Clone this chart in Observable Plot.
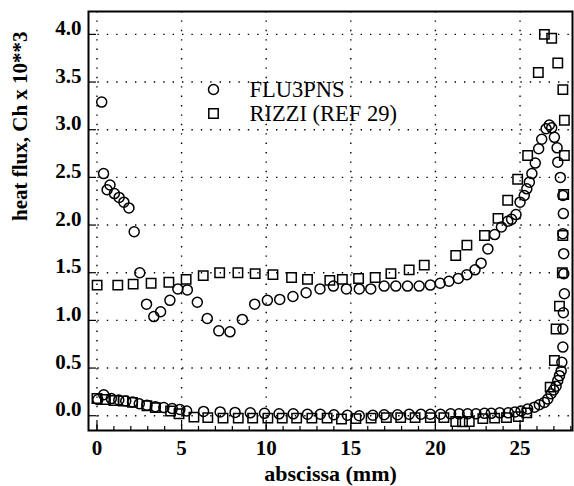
<!DOCTYPE html>
<html><head><meta charset="utf-8">
<script src="https://cdn.jsdelivr.net/npm/d3@7"></script>
<script src="https://cdn.jsdelivr.net/npm/@observablehq/plot@0.6"></script>
<style>html,body{margin:0;padding:0;background:#fff}#chart svg{display:block}</style>
</head><body><div id="chart"></div><script>
// FLU3PNS — upper branch (circles)
const fluUpperX = [0.28,0.39,0.6,0.77,1.03,1.31,1.59,1.89,2.2,2.53,2.93,3.36,3.76,4.31,4.78,5.34,5.93,6.52,7.2,7.86,8.59,9.32,10.07,10.8,11.58,12.36,13.18,13.97,14.74,15.5,16.18,16.97,17.66,18.35,19.04,19.7,20.28,20.8,21.35,21.86,22.34,22.7,23.1,23.5,23.9,24.27,24.5,24.76,25.0,25.25,25.4,25.55,25.7,25.9,26.1,26.28,26.54,26.73,26.87,27.03,27.19,27.23,27.38,27.53,27.56,27.53,27.58,27.58,27.62,27.56,27.53,27.53,27.47];
const fluUpperY = [3.29,2.54,2.37,2.42,2.33,2.29,2.24,2.18,1.93,1.50,1.17,1.04,1.09,1.21,1.33,1.32,1.19,1.02,0.89,0.88,1.01,1.17,1.21,1.22,1.25,1.29,1.33,1.36,1.33,1.33,1.33,1.36,1.36,1.36,1.36,1.37,1.39,1.41,1.44,1.48,1.53,1.60,1.75,1.90,1.98,2.04,2.06,2.11,2.24,2.31,2.38,2.45,2.54,2.65,2.80,2.90,3.01,3.05,3.02,2.92,2.81,2.66,2.50,2.31,2.12,1.91,1.70,1.49,1.28,1.08,0.91,0.72,0.56];
// FLU3PNS — lower branch (circles)
const fluLowerX = [0.05,0.4,0.85,1.29,1.7,2.1,2.5,2.95,3.45,3.95,4.45,4.9,5.3,6.3,7.28,8.16,9.06,9.9,10.76,11.6,12.44,13.2,14.0,14.8,15.5,16.3,16.97,17.76,18.45,19.14,19.7,20.3,20.9,21.4,21.9,22.4,22.9,23.3,23.8,24.3,24.7,25.06,25.45,25.85,26.14,26.44,26.64,26.83,26.99,27.13,27.23,27.33,27.43];
const fluLowerY = [0.17,0.22,0.18,0.165,0.155,0.145,0.125,0.11,0.095,0.085,0.075,0.065,0.05,0.045,0.04,0.035,0.03,0.025,0.02,0.02,0.015,0.015,0.01,0.005,0.0,0.005,0.01,0.01,0.015,0.015,0.015,0.015,0.02,0.02,0.02,0.02,0.025,0.025,0.03,0.03,0.04,0.05,0.07,0.09,0.115,0.14,0.175,0.23,0.27,0.31,0.37,0.42,0.47];
// RIZZI (REF 29) — upper branch (squares)
const rizziUpperX = [0.01,1.23,2.14,3.2,4.25,5.27,6.28,7.25,8.33,9.35,10.4,11.5,12.44,13.76,14.5,15.46,16.44,17.37,18.45,19.34,21.2,21.86,22.9,23.7,24.27,24.86,25.45,26.08,26.44,26.87,27.23,27.53,27.62,27.62,27.58,27.53,27.5,27.33,27.13,27.03,26.78];
const rizziUpperY = [1.37,1.37,1.38,1.39,1.40,1.43,1.47,1.50,1.50,1.49,1.48,1.45,1.43,1.42,1.43,1.44,1.45,1.49,1.53,1.58,1.68,1.79,1.89,2.07,2.26,2.48,2.73,3.60,4.00,3.96,3.70,3.42,3.10,2.73,2.32,1.89,1.50,1.15,0.91,0.58,0.30];
// RIZZI (REF 29) — lower branch (squares)
const rizziLowerX = [0.0,0.5,1.0,1.55,2.1,2.95,3.45,4.35,4.85,5.73,6.55,7.45,8.35,9.2,10.1,10.95,11.8,12.7,13.6,14.45,15.3,16.2,17.1,17.95,18.8,19.7,20.5,21.2,21.6,22.0,22.8,23.5,24.2,24.9,25.4];
const rizziLowerY = [0.18,0.17,0.16,0.155,0.14,0.105,0.085,0.05,0.02,-0.015,-0.02,-0.025,-0.025,-0.025,-0.025,-0.025,-0.025,-0.025,-0.025,-0.035,-0.03,-0.025,-0.02,-0.02,-0.02,-0.02,-0.02,-0.06,-0.065,-0.06,-0.03,-0.025,-0.02,-0.01,0.03];

const xTicks = [0,5,10,15,20,25];
const xMinorTicks = d3.range(0, 29, 1);
const yTicks = [0,0.5,1.0,1.5,2.0,2.5,3.0,3.5,4.0];
const legendLabels = ["FLU3PNS", "RIZZI (REF 29)"];
const xLabel = "abscissa (mm)";
const yLabel = "heat flux, Ch x 10**3";

const pts = (xs, ys) => xs.map((x, i) => ({x, y: ys[i]}));
const font = "'Liberation Serif', 'Times New Roman', serif";
const dotStyle = {x: "x", y: "y", fill: "none", stroke: "black", strokeWidth: 1.5};
const gridStyle = {stroke: "black", strokeOpacity: 1, strokeWidth: 1.4, strokeDasharray: "1.4,8"};

const chart = Plot.plot({
  width: 574, height: 486,
  marginLeft: 88, marginRight: 2, marginTop: 11, marginBottom: 56,
  style: {fontFamily: font, background: "white", color: "black"},
  x: {domain: [-0.5, 28.1]},
  y: {domain: [-0.155, 4.24]},
  marks: [
    Plot.gridX(xTicks, gridStyle),
    Plot.gridY(yTicks, gridStyle),
    Plot.axisX(xMinorTicks, {anchor: "bottom", tickSize: -4, text: null, label: null, strokeWidth: 1.2}),
    Plot.axisX(xTicks, {anchor: "bottom", tickSize: -10, text: null, label: null, strokeWidth: 1.2}),
    Plot.axisX(xTicks, {anchor: "bottom", tickSize: 0, tickPadding: 10, fontSize: 21, fontWeight: "bold", label: null}),
    Plot.axisY(yTicks, {anchor: "left", tickSize: -8, text: null, label: null, strokeWidth: 1.2}),
    Plot.axisY(yTicks, {anchor: "left", tickSize: 0, tickPadding: 7, dy: -6, tickFormat: d3.format(".1f"), fontSize: 21, fontWeight: "bold", label: null}),
    Plot.frame({stroke: "black", strokeWidth: 2}),
    Plot.text([xLabel], {frameAnchor: "bottom", dy: 43, fontSize: 22, fontWeight: "bold", lineAnchor: "middle"}),
    Plot.text([yLabel], {frameAnchor: "left", dx: -68, rotate: -90, fontSize: 21, fontWeight: "bold", lineAnchor: "middle"}),
    Plot.dot(pts(rizziUpperX, rizziUpperY), {...dotStyle, symbol: "square", r: 5.3}),
    Plot.dot(pts(rizziLowerX, rizziLowerY), {...dotStyle, symbol: "square", r: 5.3}),
    Plot.dot(pts(fluUpperX, fluUpperY), {...dotStyle, symbol: "circle", r: 5}),
    Plot.dot(pts(fluLowerX, fluLowerY), {...dotStyle, symbol: "circle", r: 5}),
    // legend
    Plot.dot([legendLabels[0]], {frameAnchor: "top-left", dx: 125, dy: 78, symbol: "circle", r: 5, fill: "none", stroke: "black", strokeWidth: 1.5}),
    Plot.dot([legendLabels[1]], {frameAnchor: "top-left", dx: 125, dy: 102, symbol: "square", r: 5.3, fill: "none", stroke: "black", strokeWidth: 1.5}),
    Plot.text([legendLabels[0]], {frameAnchor: "top-left", dx: 161, dy: 78, text: d => d, textAnchor: "start", lineAnchor: "middle", fontSize: 22.5}),
    Plot.text([legendLabels[1]], {frameAnchor: "top-left", dx: 161, dy: 102, text: d => d, textAnchor: "start", lineAnchor: "middle", fontSize: 22.5})
  ]
});
document.getElementById("chart").appendChild(chart);
</script></body></html>
